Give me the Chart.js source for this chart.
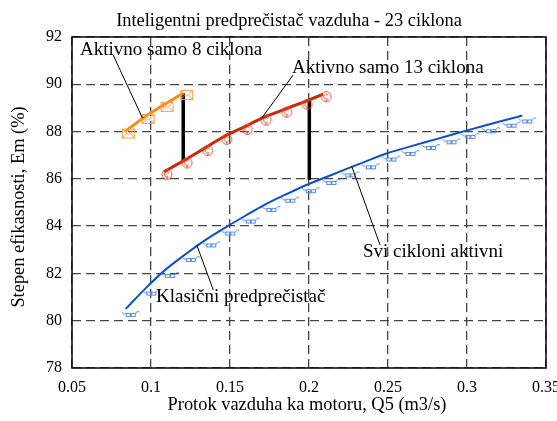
<!DOCTYPE html>
<html>
<head>
<meta charset="utf-8">
<script src="https://cdn.jsdelivr.net/npm/chart.js@4.4.0/dist/chart.umd.min.js"></script>
<style>
  html,body{margin:0;padding:0;background:#fff;}
  #wrap{width:557px;height:421px;}
</style>
</head>
<body>
<div id="wrap"><canvas id="grafik" width="557" height="421"></canvas></div>
<script>
// podaci ocitani sa slike
var naslov = "Inteligentni predprečistač vazduha - 23 ciklona";
var xNaslov = "Protok vazduha ka motoru, Q5 (m3/s)";
var yNaslov = "Stepen efikasnosti, Em (%)";

var q8 = [0.0835, 0.096, 0.108, 0.1204];
var em8 = [88.0, 88.62, 89.13, 89.63];

var q13 = [0.1082, 0.121, 0.134, 0.146, 0.159, 0.171, 0.184, 0.197, 0.209];
var em13 = [86.30, 86.78, 87.30, 87.78, 88.20, 88.59, 88.93, 89.26, 89.58];

var q23 = [0.084, 0.097, 0.109, 0.122, 0.135, 0.147, 0.160, 0.173, 0.185, 0.198, 0.211,
           0.223, 0.236, 0.249, 0.261, 0.274, 0.287, 0.299, 0.312, 0.325, 0.335];
var em23 = [80.5, 81.40, 82.15, 82.82, 83.44, 83.94, 84.45, 84.94, 85.33, 85.73, 86.08,
            86.40, 86.74, 87.07, 87.31, 87.56, 87.80, 88.03, 88.27, 88.50, 88.68];

// prelazi (crne vertikalne linije)
var prelaz1 = [[0.1204, 89.63], [0.1204, 86.75]];
var prelaz2 = [[0.2002, 89.37], [0.2002, 85.95]];

// oznake sa linijama
var oznake = [
  {tekst: "Aktivno samo 8 ciklona", px: 80, py: 50, od: [0.076, 91.24], do: [0.0947, 88.56]},
  {tekst: "Aktivno samo 13 ciklona", px: 292, py: 68, od: [0.1899, 90.39], do: [0.170, 88.56]},
  {tekst: "Svi cikloni aktivni", px: 363, py: 252, od: [0.245, 83.2], do: [0.227, 86.54]},
  {tekst: "Klasični predprečistač", px: 156, py: 297, od: [0.1394, 81.3], do: [0.129, 83.2]}
];

function parovi(xs, ys) {
  return xs.map(function (x, i) { return {x: x, y: ys[i]}; });
}
function tacke(p) {
  return p.map(function (t) { return {x: t[0], y: t[1]}; });
}

// markeri - mali crtezi, malo pomereni kao na originalu
function koverta() {
  var c = document.createElement('canvas');
  c.width = 30; c.height = 30;
  var g = c.getContext('2d');
  g.strokeStyle = '#F5A050'; g.lineWidth = 1;
  g.strokeRect(12.5, 12.5, 12, 9);
  g.beginPath();
  g.moveTo(12.5, 12.5); g.lineTo(18.5, 18); g.lineTo(24.5, 12.5);
  g.moveTo(12.5, 21.5); g.lineTo(16.5, 17); g.moveTo(24.5, 21.5); g.lineTo(20.5, 17);
  g.stroke();
  return c;
}
function krug() {
  var c = document.createElement('canvas');
  c.width = 30; c.height = 30;
  var g = c.getContext('2d');
  g.strokeStyle = '#E05030'; g.lineWidth = 1;
  g.beginPath(); g.arc(18, 17.5, 5, 0, Math.PI * 2); g.stroke();
  g.beginPath(); g.arc(18, 17.5, 2.5, Math.PI * 0.3, Math.PI * 1.8); g.stroke();
  g.beginPath(); g.moveTo(18, 20); g.lineTo(18, 23); g.stroke();
  return c;
}
function naocare() {
  var c = document.createElement('canvas');
  c.width = 34; c.height = 30;
  var g = c.getContext('2d');
  g.strokeStyle = '#5A8CE8'; g.lineWidth = 1;
  g.beginPath();
  g.moveTo(13, 18); g.quadraticCurveTo(15, 21, 17, 20);
  g.stroke();
  g.strokeRect(17.5, 19.5, 4, 3);
  g.strokeRect(22.5, 19.5, 4, 3);
  g.beginPath();
  g.moveTo(26.5, 20); g.quadraticCurveTo(28, 16, 31, 18);
  g.stroke();
  return c;
}

var okvir = {
  id: 'okvir',
  beforeDatasetsDraw: function (chart) {
    var a = chart.chartArea, g = chart.ctx;
    g.save();
    g.strokeStyle = '#111'; g.lineWidth = 1.6;
    g.strokeRect(a.left, a.top, a.right - a.left, a.bottom - a.top);
    g.restore();
  },
  afterDraw: function (chart) {
    var g = chart.ctx, sx = chart.scales.x, sy = chart.scales.y;
    g.save();
    g.fillStyle = '#000';
    g.textBaseline = 'middle';
    g.font = '18.4px "Liberation Serif", "Times New Roman", serif';
    g.textAlign = 'center';
    g.fillText(naslov, 289, 21);
    g.fillText(xNaslov, 307, 405);
    g.translate(19, 207);
    g.rotate(-Math.PI / 2);
    g.fillText(yNaslov, 0, 0);
    g.restore();

    g.save();
    g.strokeStyle = '#000'; g.lineWidth = 1;
    g.font = '19px "Liberation Serif", "Times New Roman", serif';
    g.fillStyle = '#000';
    g.textBaseline = 'middle';
    g.textAlign = 'left';
    oznake.forEach(function (o) {
      g.beginPath();
      g.moveTo(sx.getPixelForValue(o.od[0]), sy.getPixelForValue(o.od[1]));
      g.lineTo(sx.getPixelForValue(o.do[0]), sy.getPixelForValue(o.do[1]));
      g.stroke();
      g.fillText(o.tekst, o.px, o.py);
    });
    g.restore();
  }
};

var ctx = document.getElementById('grafik');
var chartGraph = new Chart(ctx, {
  type: 'scatter',
  data: {
    datasets: [
      {
        label: 'Svi cikloni aktivni',
        data: parovi(q23, em23),
        showLine: true,
        borderColor: '#0A4FD0',
        borderWidth: 2,
        cubicInterpolationMode: 'monotone',
        pointStyle: naocare(),
        pointRadius: 5
      },
      {
        label: 'Aktivno samo 13 ciklona',
        data: parovi(q13, em13),
        showLine: true,
        borderColor: '#C82A0A',
        borderWidth: 3,
        cubicInterpolationMode: 'monotone',
        pointStyle: krug(),
        pointRadius: 5
      },
      {
        label: 'Aktivno samo 8 ciklona',
        data: parovi(q8, em8),
        showLine: true,
        borderColor: '#FF8A10',
        borderWidth: 3,
        cubicInterpolationMode: 'monotone',
        pointStyle: koverta(),
        pointRadius: 5
      },
      {
        label: 'prelaz1',
        data: tacke(prelaz1),
        showLine: true,
        borderColor: '#000',
        borderWidth: 3.5,
        pointRadius: 0
      },
      {
        label: 'prelaz2',
        data: tacke(prelaz2),
        showLine: true,
        borderColor: '#000',
        borderWidth: 3.5,
        pointRadius: 0
      }
    ]
  },
  options: {
    responsive: false,
    animation: false,
    layout: {padding: {top: 37, right: 0, left: 0, bottom: 0}},
    plugins: {
      legend: {display: false},
      tooltip: {enabled: false}
    },
    scales: {
      x: {
        type: 'linear',
        min: 0.05, max: 0.35,
        afterFit: function (s) {
          s.height = 53;
          s.paddingRight = 11;
          s.paddingLeft = 0;
        },
        ticks: {
          stepSize: 0.05,
          padding: 10,
          color: '#000',
          font: {family: '"Liberation Serif", serif', size: 16},
          callback: function (v) { return String(Number(v.toFixed(2))); }
        },
        grid: {color: '#444', lineWidth: 1.3, drawTicks: false},
        border: {display: false, dash: [9, 5]}
      },
      y: {
        min: 78, max: 92,
        afterFit: function (s) {
          s.width = 72;
          s.paddingTop = 0;
          s.paddingBottom = 0;
        },
        ticks: {
          stepSize: 2,
          padding: 10,
          color: '#000',
          font: {family: '"Liberation Serif", serif', size: 16}
        },
        grid: {color: '#444', lineWidth: 1.3, drawTicks: false},
        border: {display: false, dash: [9, 5]}
      }
    }
  },
  plugins: [okvir]
});
</script>
</body>
</html>
